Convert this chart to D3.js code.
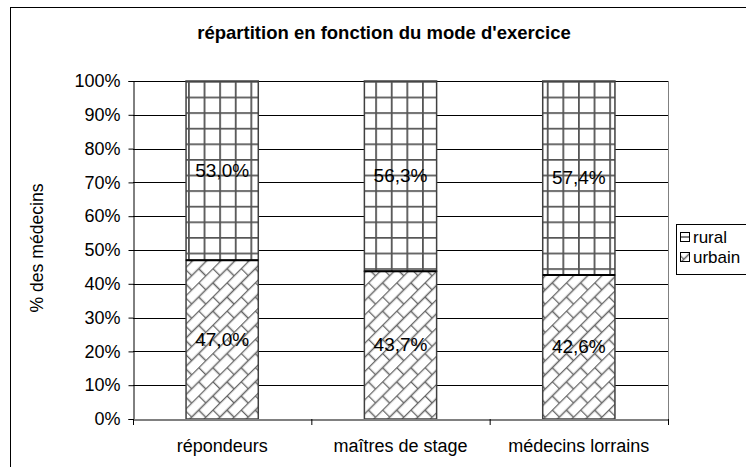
<!DOCTYPE html>
<html><head><meta charset="utf-8">
<script src="https://cdnjs.cloudflare.com/ajax/libs/d3/7.8.5/d3.min.js"></script>
<style>body{margin:0;background:#fff}svg{display:block;font-family:"Liberation Sans",Arial,sans-serif}</style>
</head><body><svg id="c" width="746" height="467"></svg>
<script>
const categories = ["répondeurs", "maîtres de stage", "médecins lorrains"];
const urbain = [47.0, 43.7, 42.6];
const rural = [53.0, 56.3, 57.4];
const seriesNames = ["rural", "urbain"];
const yTicks = [0,10,20,30,40,50,60,70,80,90,100];
const title = "répartition en fonction du mode d'exercice";
const yLabel = "% des médecins";

const svg = d3.select("#c");
const defs = svg.append("defs");
// grid pattern (rural)
const pg = defs.append("pattern").attr("id","grid").attr("patternUnits","userSpaceOnUse")
  .attr("width",15.6).attr("height",15.6).attr("x",188).attr("y",81);
pg.append("rect").attr("width",15.6).attr("height",15.6).attr("fill","#fff");
pg.append("path").attr("d","M0.8,0V15.6M0,0.8H15.6").attr("stroke","#555").attr("stroke-width",2);
// diagonal brick (urbain)
const pb = defs.append("pattern").attr("id","brick").attr("patternUnits","userSpaceOnUse")
  .attr("width",20).attr("height",20).attr("patternTransform","rotate(-45)");
pb.append("rect").attr("width",20).attr("height",20).attr("fill","#fff");
pb.append("path").attr("d","M0,0.5H20M0,10.5H20M0.5,0V10M10.5,10V20").attr("stroke","#666").attr("stroke-width",1.5);

svg.append("rect").attr("x",10.5).attr("y",7.5).attr("width",760).attr("height",480)
  .attr("fill","none").attr("stroke","#000").attr("stroke-width",1);

const m = {l:133, r:668, t:81, b:419};
const x = d3.scaleBand().domain(categories).range([m.l,m.r]).paddingInner(0.595).paddingOuter(0.2975);
const y = d3.scaleLinear().domain([0,100]).range([m.b,m.t]);

// gridlines
svg.append("g").selectAll("line").data(yTicks.filter(d=>d>0)).join("line")
  .attr("x1",m.l).attr("x2",m.r).attr("y1",d=>Math.round(y(d))+0.5).attr("y2",d=>Math.round(y(d))+0.5)
  .attr("stroke","#000").attr("stroke-width",1);
svg.append("line").attr("x1",m.r+0.5).attr("x2",m.r+0.5).attr("y1",m.t).attr("y2",m.b).attr("stroke","#808080");

const data = categories.map((c,i)=>({c, u:urbain[i], r:rural[i]}));
const g = svg.append("g");
g.selectAll("rect.u").data(data).join("rect").attr("class","u")
  .attr("x",d=>x(d.c)).attr("width",x.bandwidth())
  .attr("y",d=>y(d.u)).attr("height",d=>y(0)-y(d.u))
  .attr("fill","url(#brick)").attr("stroke","#404040").attr("stroke-width",1.5);
g.selectAll("rect.r").data(data).join("rect").attr("class","r")
  .attr("x",d=>x(d.c)).attr("width",x.bandwidth())
  .attr("y",d=>y(d.u+d.r)).attr("height",d=>y(d.u)-y(d.u+d.r))
  .attr("fill","url(#grid)").attr("stroke","#404040").attr("stroke-width",1.5);
g.selectAll("line.b").data(data).join("line").attr("class","b")
  .attr("x1",d=>x(d.c)).attr("x2",d=>x(d.c)+x.bandwidth())
  .attr("y1",d=>y(d.u)).attr("y2",d=>y(d.u)).attr("stroke","#000").attr("stroke-width",2);

const fmt = v => v.toFixed(1).replace(".",",")+"%";
g.selectAll("text.lu").data(data).join("text")
  .attr("x",d=>x(d.c)+x.bandwidth()/2).attr("y",d=>y(d.u/2)+6)
  .attr("text-anchor","middle").attr("font-size",19).text(d=>fmt(d.u));
g.selectAll("text.lr").data(data).join("text")
  .attr("x",d=>x(d.c)+x.bandwidth()/2).attr("y",d=>y(d.u+d.r/2)+6)
  .attr("text-anchor","middle").attr("font-size",19).text(d=>fmt(d.r));

const ya = svg.append("g").attr("transform",`translate(${m.l+0.5},0)`)
  .call(d3.axisLeft(y).tickValues(yTicks).tickSize(5).tickPadding(8).tickFormat(d=>d+"%"));
ya.select(".domain").attr("stroke","#000");
ya.selectAll("text").attr("font-size",18).attr("font-family","Liberation Sans, Arial, sans-serif").attr("fill","#000");
const xa = svg.append("g").attr("transform",`translate(0,${m.b+0.5})`)
  .call(d3.axisBottom(x).tickSize(0).tickPadding(20));
xa.select(".domain").attr("stroke","#808080").attr("stroke-width",2);
xa.selectAll("text").attr("font-size",18).attr("font-family","Liberation Sans, Arial, sans-serif").attr("fill","#000");
svg.append("g").selectAll("line").data([0,1,2,3]).join("line")
  .attr("x1",i=>m.l+0.5+i*(m.r-m.l)/3).attr("x2",i=>m.l+0.5+i*(m.r-m.l)/3)
  .attr("y1",m.b).attr("y2",m.b+6).attr("stroke","#000");

svg.append("text").attr("x",384).attr("y",39).attr("text-anchor","middle")
  .attr("font-size",18.5).attr("font-weight","bold").text(title);
svg.append("text").attr("transform","translate(43,248) rotate(-90)").attr("text-anchor","middle")
  .attr("font-size",17.6).text(yLabel);

const lg = svg.append("g").attr("transform","translate(676,224)");
lg.append("rect").attr("x",0.5).attr("y",0.5).attr("width",90).attr("height",50).attr("fill","#fff").attr("stroke","#000");
seriesNames.forEach((n,i)=>{
  const yy = 8+i*20;
  if(i===0){
    lg.append("rect").attr("x",4.5).attr("y",yy+0.5).attr("width",9).attr("height",9).attr("fill","#fff").attr("stroke","#000");
    lg.append("line").attr("x1",4.5).attr("x2",13.5).attr("y1",yy+5).attr("y2",yy+5).attr("stroke","#000");
  } else {
    lg.append("rect").attr("x",4.5).attr("y",yy+0.5).attr("width",9).attr("height",9).attr("fill","url(#brick)").attr("stroke","#000");
  }
  lg.append("text").attr("x",17).attr("y",yy+11).attr("font-size",17).text(n);
});
</script></body></html>
